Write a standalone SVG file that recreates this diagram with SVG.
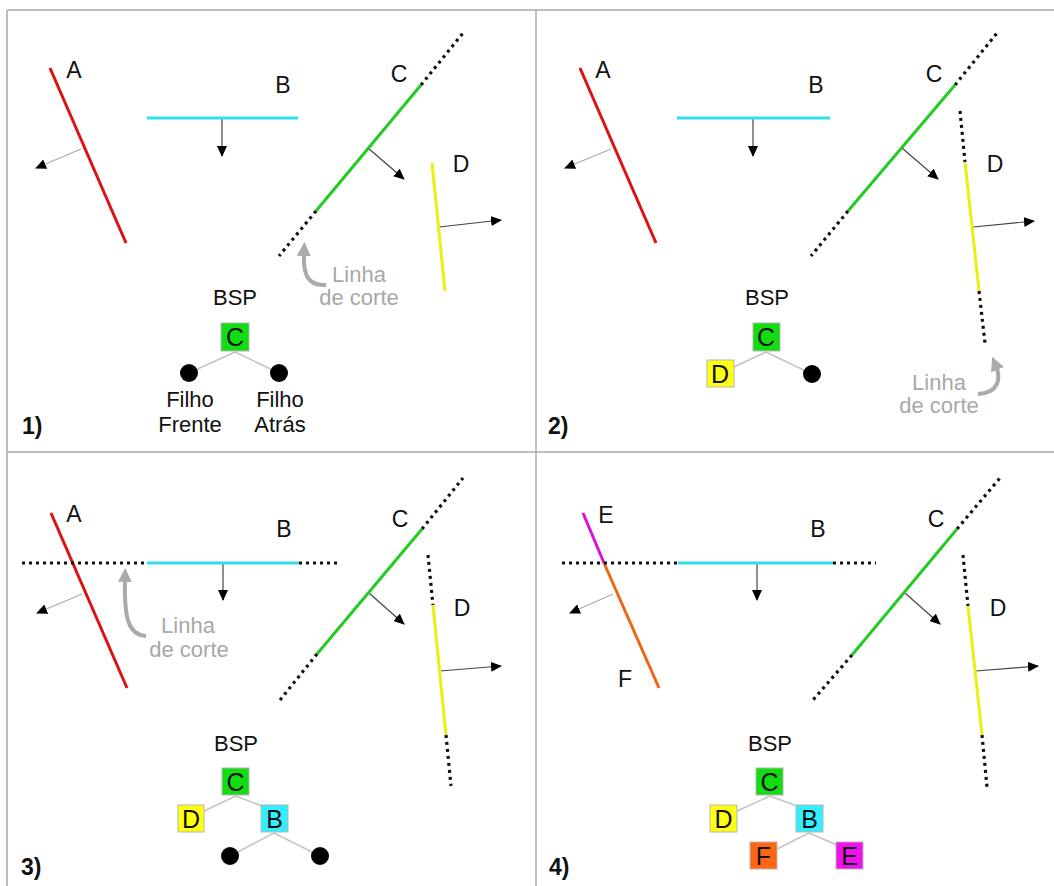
<svg xmlns="http://www.w3.org/2000/svg" width="1054" height="886" viewBox="0 0 1054 886">
  <style>
    text { font-family: "Liberation Sans", Arial, sans-serif; fill: #111; }
    .lbl { font-size: 23px; text-anchor: middle; }
    .txt { font-size: 22px; text-anchor: middle; }
    .cut { font-size: 22px; text-anchor: middle; fill: #a8a8a8; }
    .num { font-size: 23px; font-weight: bold; }
    .box { font-size: 25px; text-anchor: middle; }
    .frame { stroke: #a9a9a9; stroke-width: 1.5; fill: none; }
    .seg { stroke-width: 3; fill: none; }
    .dots { stroke: #111; stroke-width: 3.2; stroke-dasharray: 3 4; fill: none; }
    .nrm { stroke: #444; stroke-width: 1.2; fill: none; marker-end: url(#tip); }
    .nrmA { stroke: #aaa; stroke-width: 1.2; fill: none; marker-end: url(#tip); }
    .edge { stroke: #c4c4c4; stroke-width: 1.5; fill: none; }
    .cutarrow { stroke: #aaa; stroke-width: 4; fill: none; marker-end: url(#gtip); }
    .nodebox { stroke: #b5b5b5; stroke-width: 1; }
    .leaf { fill: #000; }
    .red { stroke: #dd1111; }
    .cyan { stroke: #33ddee; }
    .green { stroke: #22cc22; }
    .yellow { stroke: #eeee11; }
    .magenta { stroke: #dd11dd; }
    .orange { stroke: #ee6611; }
  </style>
  <defs>
    <marker id="tip" markerUnits="userSpaceOnUse" viewBox="0 0 11 10" refX="10" refY="5" markerWidth="11" markerHeight="10" orient="auto">
      <path d="M0,0 L11,5 L0,10 z" fill="#000"/>
    </marker>
    <marker id="gtip" markerUnits="userSpaceOnUse" viewBox="0 0 14 14" refX="4" refY="7" markerWidth="14" markerHeight="14" orient="auto">
      <path d="M0,0 L14,7 L0,14 z" fill="#aaa"/>
    </marker>
  </defs>

  <rect width="1054" height="886" fill="#fff"/>

  <!-- frame dividing the four steps -->
  <g id="frame">
    <line class="frame" x1="7" y1="10" x2="1054" y2="10"/>
    <line class="frame" x1="7" y1="10" x2="7" y2="886"/>
    <line class="frame" x1="536" y1="10" x2="536" y2="886"/>
    <line class="frame" x1="7" y1="452" x2="1054" y2="452"/>
  </g>

  <!-- ===== Step 1 ===== -->
  <g id="step1">
    <g id="s1-connectors">
      <line class="nrmA" x1="81" y1="149" x2="36" y2="168"/>
      <line class="nrm" x1="222" y1="118" x2="222" y2="156"/>
      <line class="nrm" x1="368" y1="148" x2="404" y2="179"/>
      <line class="nrm" x1="439" y1="227" x2="501" y2="220"/>
      <line class="edge" x1="235" y1="352" x2="189" y2="373"/>
      <line class="edge" x1="235" y1="352" x2="279" y2="373"/>
    </g>
    <g id="s1-A"><line class="seg red" x1="50" y1="68" x2="126" y2="243"/><text class="lbl" x="74" y="78">A</text></g>
    <g id="s1-B"><line class="seg cyan" x1="147" y1="118" x2="298" y2="118"/><text class="lbl" x="283" y="93">B</text></g>
    <g id="s1-C">
      <line class="dots" x1="421" y1="85" x2="463" y2="33"/>
      <line class="seg green" x1="316" y1="211" x2="421" y2="85"/>
      <line class="dots" x1="316" y1="211" x2="279" y2="256"/>
      <text class="lbl" x="399" y="82">C</text>
    </g>
    <g id="s1-D"><line class="seg yellow" x1="432" y1="163" x2="445" y2="291"/><text class="lbl" x="461" y="172">D</text></g>
    <g id="s1-cut">
      <path class="cutarrow" d="M326,285 C307,286 303,274 304,252"/>
      <text class="cut" x="359" y="282">Linha</text>
      <text class="cut" x="359" y="305">de corte</text>
    </g>
    <text class="txt" x="235" y="305">BSP</text>
    <g id="s1-tree-C"><rect class="nodebox" x="221" y="323" width="28" height="28" fill="#11dd11"/><text class="box" x="235" y="346">C</text></g>
    <g id="s1-tree-front"><circle class="leaf" cx="189" cy="373" r="9"/><text class="txt" x="190" y="407">Filho</text><text class="txt" x="190" y="432">Frente</text></g>
    <g id="s1-tree-back"><circle class="leaf" cx="279" cy="373" r="9"/><text class="txt" x="280" y="407">Filho</text><text class="txt" x="280" y="432">Atrás</text></g>
    <text class="num" x="22" y="434">1)</text>
  </g>

  <!-- ===== Step 2 ===== -->
  <g id="step2">
    <g id="s2-connectors">
      <line class="nrmA" x1="611" y1="149" x2="565" y2="168"/>
      <line class="nrm" x1="753" y1="118" x2="753" y2="156"/>
      <line class="nrm" x1="902" y1="148" x2="938" y2="179"/>
      <line class="nrm" x1="973" y1="227" x2="1034" y2="221"/>
      <line class="edge" x1="766" y1="352" x2="734" y2="367"/>
      <line class="edge" x1="766" y1="352" x2="812" y2="374"/>
    </g>
    <g id="s2-A"><line class="seg red" x1="580" y1="68" x2="656" y2="243"/><text class="lbl" x="603" y="78">A</text></g>
    <g id="s2-B"><line class="seg cyan" x1="677" y1="118" x2="830" y2="118"/><text class="lbl" x="816" y="93">B</text></g>
    <g id="s2-C">
      <line class="dots" x1="955" y1="85" x2="997" y2="33"/>
      <line class="seg green" x1="848" y1="211" x2="955" y2="85"/>
      <line class="dots" x1="848" y1="211" x2="811" y2="256"/>
      <text class="lbl" x="934" y="82">C</text>
    </g>
    <g id="s2-D">
      <line class="dots" x1="960" y1="111" x2="965" y2="162"/>
      <line class="seg yellow" x1="965" y1="162" x2="979" y2="291"/>
      <line class="dots" x1="979" y1="291" x2="985" y2="343"/>
      <text class="lbl" x="995" y="172">D</text>
    </g>
    <g id="s2-cut">
      <path class="cutarrow" d="M978,394 C999,393 1001,378 996,366"/>
      <text class="cut" x="939" y="390">Linha</text>
      <text class="cut" x="939" y="413">de corte</text>
    </g>
    <text class="txt" x="767" y="305">BSP</text>
    <g id="s2-tree-C"><rect class="nodebox" x="753" y="323" width="27" height="28" fill="#11dd11"/><text class="box" x="766" y="346">C</text></g>
    <g id="s2-tree-D"><rect class="nodebox" x="707" y="360" width="27" height="27" fill="#ffff11"/><text class="box" x="720" y="383">D</text></g>
    <g id="s2-tree-back"><circle class="leaf" cx="812" cy="374" r="9"/></g>
    <text class="num" x="548" y="434">2)</text>
  </g>

  <!-- ===== Step 3 ===== -->
  <g id="step3">
    <g id="s3-connectors">
      <line class="nrmA" x1="82" y1="594" x2="37" y2="613"/>
      <line class="nrm" x1="223" y1="563" x2="223" y2="600"/>
      <line class="nrm" x1="369" y1="593" x2="404" y2="624"/>
      <line class="nrm" x1="440" y1="671" x2="501" y2="666"/>
      <line class="edge" x1="236" y1="796" x2="204" y2="811"/>
      <line class="edge" x1="236" y1="796" x2="262" y2="806"/>
      <line class="edge" x1="274" y1="833" x2="230" y2="856"/>
      <line class="edge" x1="274" y1="833" x2="320" y2="856"/>
    </g>
    <g id="s3-A"><line class="seg red" x1="51" y1="513" x2="127" y2="688"/><text class="lbl" x="74" y="522">A</text></g>
    <g id="s3-B">
      <line class="dots" x1="22" y1="563" x2="147" y2="563"/>
      <line class="seg cyan" x1="147" y1="563" x2="299" y2="563"/>
      <line class="dots" x1="299" y1="563" x2="340" y2="563"/>
      <text class="lbl" x="284" y="537">B</text>
    </g>
    <g id="s3-C">
      <line class="dots" x1="422" y1="529" x2="463" y2="478"/>
      <line class="seg green" x1="317" y1="654" x2="422" y2="529"/>
      <line class="dots" x1="317" y1="654" x2="280" y2="700"/>
      <text class="lbl" x="400" y="527">C</text>
    </g>
    <g id="s3-D">
      <line class="dots" x1="428" y1="555" x2="433" y2="605"/>
      <line class="seg yellow" x1="433" y1="605" x2="446" y2="735"/>
      <line class="dots" x1="446" y1="735" x2="451" y2="786"/>
      <text class="lbl" x="462" y="616">D</text>
    </g>
    <g id="s3-cut">
      <path class="cutarrow" d="M146,636 C128,635 124,618 125,578"/>
      <text class="cut" x="188" y="633">Linha</text>
      <text class="cut" x="189" y="657">de corte</text>
    </g>
    <text class="txt" x="236" y="751">BSP</text>
    <g id="s3-tree-C"><rect class="nodebox" x="222" y="768" width="27" height="27" fill="#11dd11"/><text class="box" x="235.5" y="791">C</text></g>
    <g id="s3-tree-D"><rect class="nodebox" x="178" y="805" width="26" height="27" fill="#ffff11"/><text class="box" x="191" y="828">D</text></g>
    <g id="s3-tree-B"><rect class="nodebox" x="261" y="805" width="27" height="27" fill="#33eeff"/><text class="box" x="274.5" y="828">B</text></g>
    <g id="s3-tree-front"><circle class="leaf" cx="230" cy="856" r="9"/></g>
    <g id="s3-tree-back"><circle class="leaf" cx="320" cy="856" r="9"/></g>
    <text class="num" x="21" y="875">3)</text>
  </g>

  <!-- ===== Step 4 ===== -->
  <g id="step4">
    <g id="s4-connectors">
      <line class="nrmA" x1="613" y1="594" x2="570" y2="613"/>
      <line class="nrm" x1="757" y1="563" x2="757" y2="600"/>
      <line class="nrm" x1="905" y1="593" x2="940" y2="624"/>
      <line class="nrm" x1="976" y1="671" x2="1038" y2="666"/>
      <line class="edge" x1="770" y1="796" x2="737" y2="811"/>
      <line class="edge" x1="770" y1="796" x2="797" y2="806"/>
      <line class="edge" x1="809" y1="833" x2="777" y2="849"/>
      <line class="edge" x1="809" y1="833" x2="837" y2="845"/>
    </g>
    <g id="s4-E"><line class="seg magenta" x1="583" y1="513" x2="604" y2="563"/><text class="lbl" x="606" y="523">E</text></g>
    <g id="s4-F"><line class="seg orange" x1="604" y1="563" x2="659" y2="688"/><text class="lbl" x="625" y="687">F</text></g>
    <g id="s4-B">
      <line class="dots" x1="562" y1="563" x2="678" y2="563"/>
      <line class="seg cyan" x1="678" y1="563" x2="833" y2="563"/>
      <line class="dots" x1="833" y1="563" x2="876" y2="563"/>
      <text class="lbl" x="818" y="537">B</text>
    </g>
    <g id="s4-C">
      <line class="dots" x1="957" y1="529" x2="1000" y2="478"/>
      <line class="seg green" x1="852" y1="655" x2="957" y2="529"/>
      <line class="dots" x1="852" y1="655" x2="813" y2="700"/>
      <text class="lbl" x="936" y="527">C</text>
    </g>
    <g id="s4-D">
      <line class="dots" x1="963" y1="555" x2="968" y2="606"/>
      <line class="seg yellow" x1="968" y1="606" x2="982" y2="735"/>
      <line class="dots" x1="982" y1="735" x2="987" y2="787"/>
      <text class="lbl" x="998" y="616">D</text>
    </g>
    <text class="txt" x="770" y="751">BSP</text>
    <g id="s4-tree-C"><rect class="nodebox" x="756" y="768" width="27" height="27" fill="#11dd11"/><text class="box" x="769.5" y="791">C</text></g>
    <g id="s4-tree-D"><rect class="nodebox" x="710" y="805" width="27" height="27" fill="#ffff11"/><text class="box" x="723.5" y="828">D</text></g>
    <g id="s4-tree-B"><rect class="nodebox" x="796" y="805" width="27" height="27" fill="#33eeff"/><text class="box" x="809.5" y="828">B</text></g>
    <g id="s4-tree-F"><rect class="nodebox" x="750" y="842" width="27" height="27" fill="#ff6611"/><text class="box" x="763.5" y="865">F</text></g>
    <g id="s4-tree-E"><rect class="nodebox" x="836" y="842" width="27" height="27" fill="#ee11ee"/><text class="box" x="849.5" y="865">E</text></g>
    <text class="num" x="549" y="875">4)</text>
  </g>
</svg>
